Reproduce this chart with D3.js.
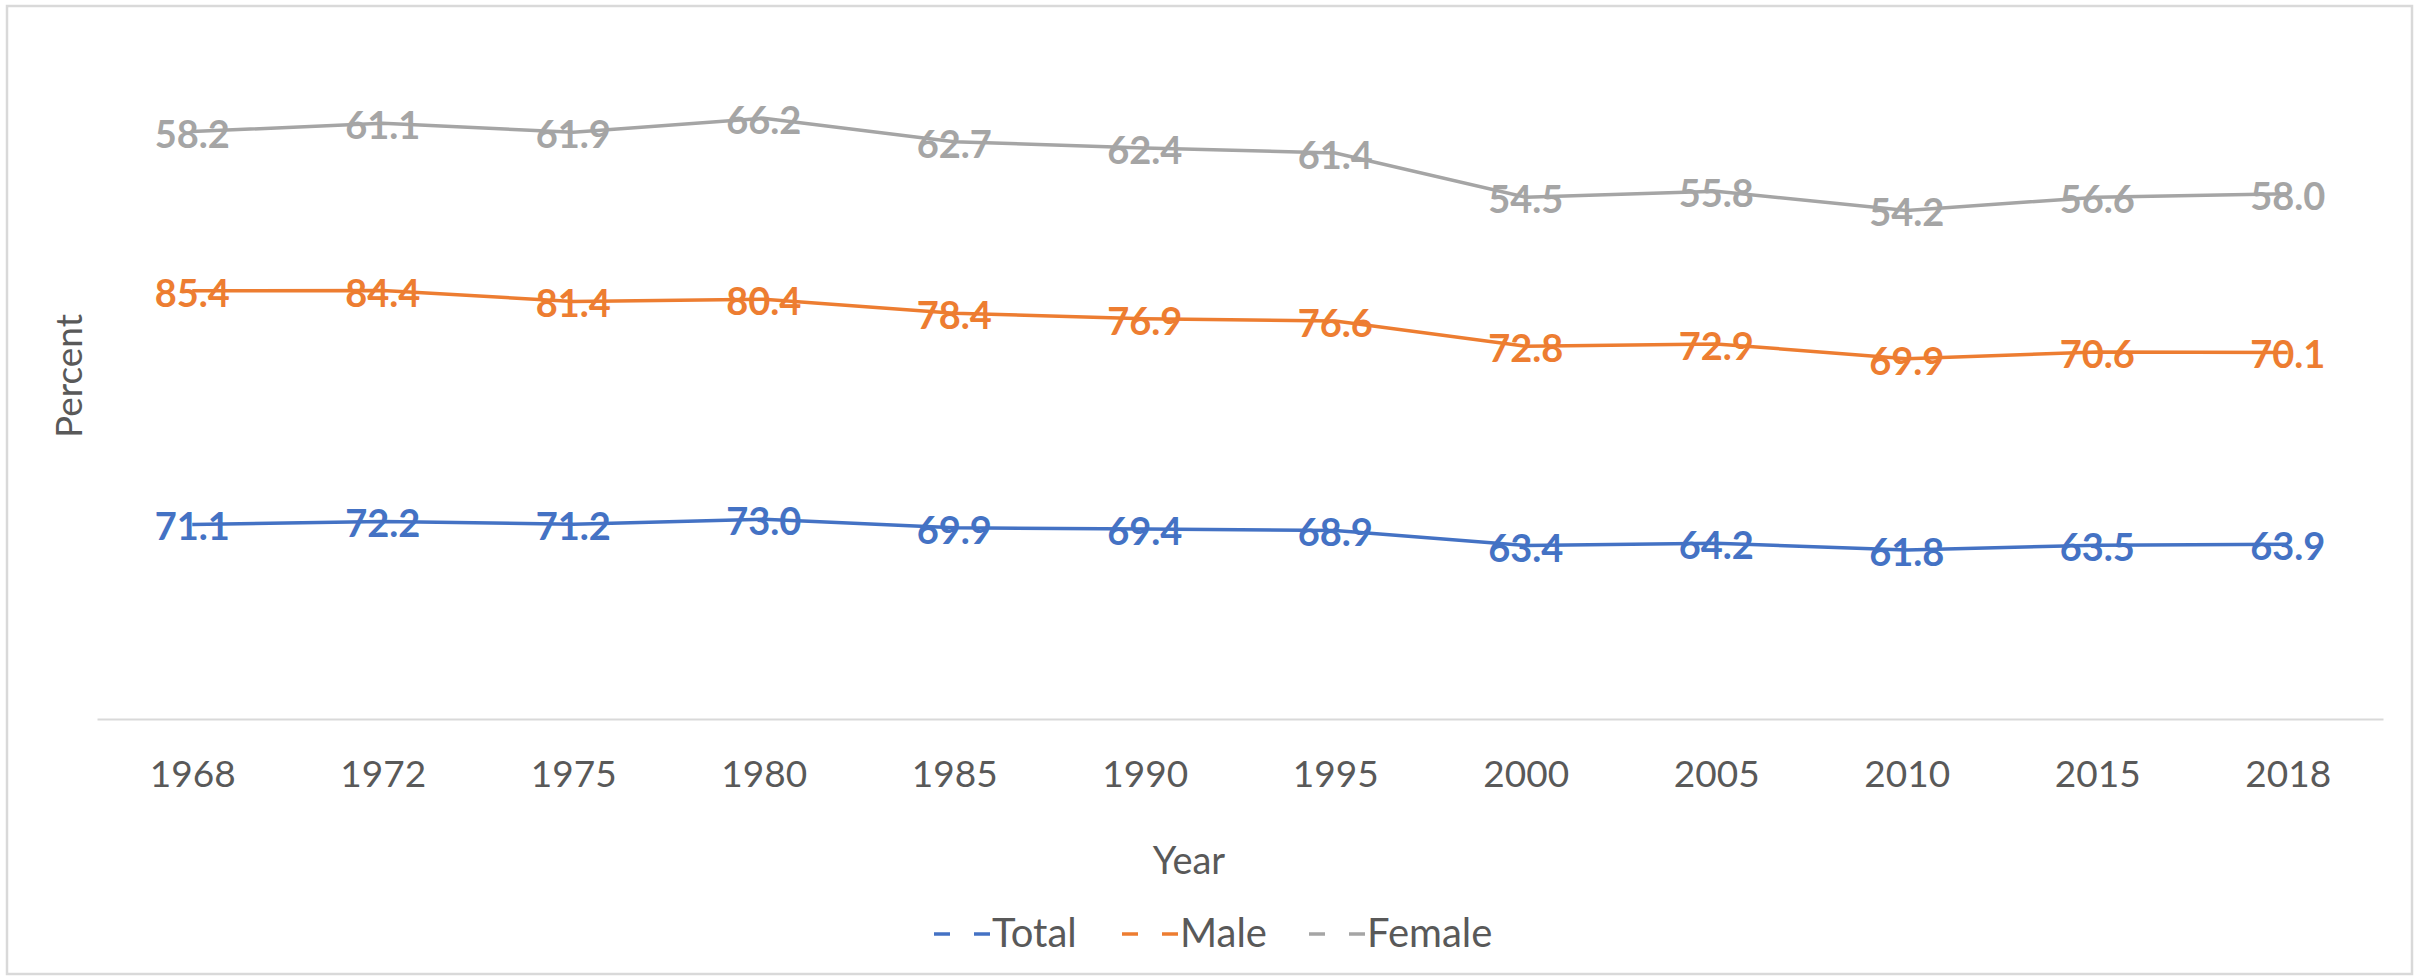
<!DOCTYPE html>
<html>
<head>
<meta charset="utf-8">
<script src="https://cdn.jsdelivr.net/npm/d3@7"></script>
<style>
    body { margin: 0; background: #ffffff; }
    text { font-family: Lato, "Open Sans", sans-serif; }
</style>
</head>
<body>
<div id="canvas"></div>
<script>
"use strict"

/* Chart values */
let years = ["1968", "1972", "1975", "1980", "1985", "1990", "1995", "2000", "2005", "2010", "2015", "2018"];
let totalValues = [71.1, 72.2, 71.2, 73.0, 69.9, 69.4, 68.9, 63.4, 64.2, 61.8, 63.5, 63.9];
let maleValues = [85.4, 84.4, 81.4, 80.4, 78.4, 76.9, 76.6, 72.8, 72.9, 69.9, 70.6, 70.1];
let femaleValues = [58.2, 61.1, 61.9, 66.2, 62.7, 62.4, 61.4, 54.5, 55.8, 54.2, 56.6, 58.0];
let seriesNames = ["Total", "Male", "Female"];
let seriesColors = ["#4472C4", "#ED7D31", "#A5A5A5"];

/* Rows for d3.stack (Excel stacked line chart) */
let rows = years.map(function (y, i) {
    return { year: y, Total: totalValues[i], Male: maleValues[i], Female: femaleValues[i] };
});
let stacked = d3.stack().keys(seriesNames)(rows);

let drawing = d3.select("#canvas")
    .append("svg")
    .attr("width", 2422)
    .attr("height", 976);

/* light frame round the chart */
let border = drawing.append("rect")
    .attr("x", 7)
    .attr("y", 6)
    .attr("width", 2405)
    .attr("height", 968)
    .attr("fill", "white")
    .attr("stroke", "#d9d9d9")
    .attr("stroke-width", 2.5);

let xScale = d3.scalePoint()
    .domain(years)
    .range([97, 2383])
    .padding(0.5);

let yScale = d3.scaleLinear()
    .domain([0, 250])
    .range([719, 35]);

/* x axis: no ticks, grey line */
let xAxis = drawing.append("g")
    .attr("transform", "translate(0," + yScale(0) + ")")
    .call(d3.axisBottom(xScale).tickSize(0).tickPadding(0));

xAxis.select(".domain")
    .attr("stroke", "#d9d9d9")
    .attr("stroke-width", 2);

xAxis.selectAll("text")
    .attr("dy", 68)
    .attr("font-size", 37)
    .attr("fill", "#595959");

/* axis titles */
drawing.append("text")
    .attr("x", 1189)
    .attr("y", 874)
    .attr("text-anchor", "middle")
    .attr("font-size", 38)
    .attr("fill", "#595959")
    .text("Year");

drawing.append("text")
    .attr("transform", "translate(82,376) rotate(-90)")
    .attr("text-anchor", "middle")
    .attr("font-size", 37)
    .attr("fill", "#595959")
    .text("Percent");

/* data labels go under the lines, like the original */
let labelGroups = drawing.append("g")
    .selectAll("g")
    .data(stacked)
    .join("g")
    .attr("fill", function (d, i) { return seriesColors[i]; });

labelGroups.selectAll("text")
    .data(function (d) { return d; })
    .join("text")
    .attr("x", function (d) { return xScale(d.data.year); })
    .attr("y", function (d) { return yScale(d[1]) + 16; })
    .attr("text-anchor", "middle")
    .attr("font-size", 38)
    .attr("font-weight", "bold")
    .text(function (d, i, nodes) {
        let key = d3.select(nodes[i].parentNode).datum().key;
        return d.data[key].toFixed(1);
    });

let line = d3.line()
    .x(function (d) { return xScale(d.data.year); })
    .y(function (d) { return yScale(d[1]); });

drawing.append("g")
    .selectAll("path")
    .data(stacked)
    .join("path")
    .attr("d", line)
    .attr("fill", "none")
    .attr("stroke", function (d, i) { return seriesColors[i]; })
    .attr("stroke-width", 3.5);

/* legend: Excel draws a short dash key */
let legendX = [934, 1122, 1309];
let legend = drawing.append("g")
    .selectAll("g")
    .data(seriesNames)
    .join("g")
    .attr("transform", function (d, i) { return "translate(" + legendX[i] + ",934)"; });

legend.append("line")
    .attr("x1", 0)
    .attr("x2", 16)
    .attr("stroke", function (d, i) { return seriesColors[i]; })
    .attr("stroke-width", 3.5);

legend.append("line")
    .attr("x1", 40)
    .attr("x2", 56)
    .attr("stroke", function (d, i) { return seriesColors[i]; })
    .attr("stroke-width", 3.5);

legend.append("text")
    .attr("x", 58)
    .attr("y", 13)
    .attr("font-size", 40)
    .attr("fill", "#595959")
    .text(function (d) { return d; });
</script>
</body>
</html>
